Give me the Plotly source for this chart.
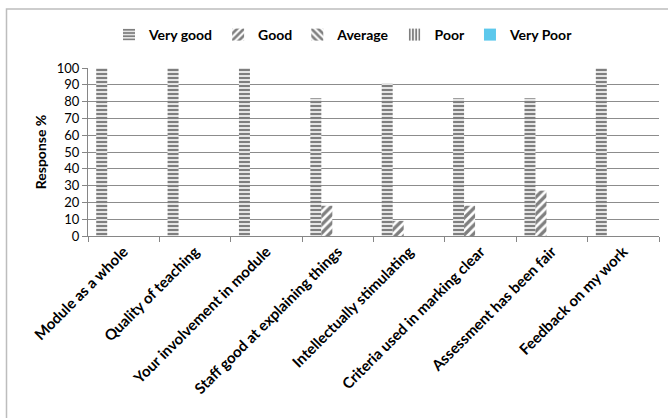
import plotly.graph_objects as go

categories = ["Module as a whole", "Quality of teaching", "Your involvement in module",
              "Staff good at explaining things", "Intellectually stimulating",
              "Criteria used in marking clear", "Assessment has been fair",
              "Feedback on my work"]
very_good = [100, 100, 100, 82, 91, 82, 82, 100]
good = [0, 0, 0, 18, 9, 18, 27, 0]
average = [0, 0, 0, 0, 0, 0, 0, 0]
poor = [0, 0, 0, 0, 0, 0, 0, 0]
very_poor = [0, 0, 0, 0, 0, 0, 0, 0]
y_ticks = list(range(0, 101, 10))

FONT = "Lato"

series = [
    ("Very good", very_good, dict(shape="-", fgcolor="#000000", bgcolor="white", size=4, solidity=0.6)),
    ("Good", good, dict(shape="/", fgcolor="#000000", bgcolor="white", size=6, solidity=0.55)),
    ("Average", average, dict(shape="\\", fgcolor="#000000", bgcolor="white", size=6, solidity=0.55)),
    ("Poor", poor, dict(shape="|", fgcolor="#000000", bgcolor="white", size=4, solidity=0.55)),
    ("Very Poor", very_poor, None),
]

fig = go.Figure()
for name, vals, pat in series:
    marker = dict(line=dict(width=0))
    if pat is None:
        marker["color"] = "#5cc8ec"
    else:
        marker["color"] = "white"
        marker["pattern"] = pat
    fig.add_trace(go.Bar(x=categories, y=vals, name=name, marker=marker))

W, H = 668, 418
ml, mr, mt, mb = 88, 9, 68, 182
pw, ph = W - ml - mr, H - mt - mb

def px_x(p):
    return (p - ml) / pw

def px_y(p):
    return (H - mb - p) / ph

fig.add_shape(type="rect", xref="paper", yref="paper",
              x0=px_x(6.5), x1=px_x(675), y0=px_y(425), y1=px_y(9),
              line=dict(color="#bdbdbd", width=1.5), fillcolor="rgba(0,0,0,0)", layer="below")

fig.update_layout(
    width=W, height=H,
    margin=dict(l=ml, r=mr, t=mt, b=mb),
    paper_bgcolor="white", plot_bgcolor="white",
    barmode="group", bargap=0.23, bargroupgap=0,
    font=dict(family=FONT, size=12, color="black"),
    showlegend=True,
    legend=dict(orientation="h", x=px_x(344), xanchor="center", y=px_y(35), yanchor="middle",
                font=dict(family=FONT, size=14, weight="bold"), itemwidth=30,
                traceorder="normal"),
    xaxis=dict(type="category", tickson="boundaries", ticks="outside", ticklen=5,
               tickcolor="#868686", showline=True, linecolor="#868686", linewidth=1,
               tickangle=-45, tickfont=dict(family=FONT, size=15, weight="bold"),
               showgrid=False),
    yaxis=dict(range=[0, 100], tickvals=y_ticks, ticks="outside", ticklen=5,
               tickcolor="#868686", showline=True, linecolor="#868686", linewidth=1,
               showgrid=True, gridcolor="#8c8c8c", gridwidth=1,
               tickfont=dict(family=FONT, size=13),
               title=dict(text="Response %", font=dict(family=FONT, size=14, weight="bold"), standoff=6),
               zeroline=False),
)

fig.write_html("out.html", config={"displayModeBar": False},
               post_script="document.body.style.margin='0px';")
